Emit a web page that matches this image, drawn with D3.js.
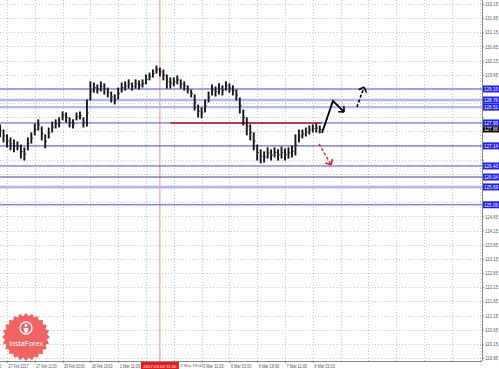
<!DOCTYPE html>
<html><head><meta charset="utf-8">
<script src="https://cdn.jsdelivr.net/npm/d3@7"></script>
<style>body{margin:0;background:#fff}svg{display:block}</style></head>
<body><svg id="c" width="499" height="369"></svg>
<script>
// ---- data ----
const priceTicks = [132.15,131.65,131.15,130.65,130.15,129.65,129.15,128.65,128.15,127.65,127.15,126.65,126.15,125.65,125.15,124.65,124.15,123.65,123.15,122.65,122.15,121.65,121.15,120.65,120.15,119.65];
const timeLabels = ["24 Feb 19:00","27 Feb 2017","27 Feb 11:00","28 Feb 03:00","28 Feb 19:00","1 Mar 11:00","2 Mar 03:00","2 Mar 19:00","3 Mar 11:00","6 Mar 03:00","6 Mar 19:00","7 Mar 11:00","8 Mar 03:00"];
const timeLabelHours = [-16,0,16,32,48,64,80,96,112,128,144,160,176];
const gridHours = [0,16,32,48,64,80,96,112,128,144,160,176,192,208,224,240,256,272];
const barHighs = [127.88,127.70,127.53,127.42,127.35,127.28,127.17,127.07,127.42,127.60,127.91,128.06,127.81,127.53,127.77,127.98,128.06,128.13,128.34,128.30,128.13,128.06,128.30,128.34,128.13,128.76,129.40,129.36,129.29,129.40,129.33,129.18,129.04,128.94,129.18,129.36,129.40,129.47,129.36,129.47,129.43,129.47,129.64,129.71,129.82,129.96,129.89,129.82,129.64,129.54,129.54,129.61,129.47,129.40,129.26,129.11,128.94,128.58,128.48,128.76,129.04,129.29,129.22,129.33,129.26,129.40,129.33,129.26,129.11,128.83,128.41,128.13,127.88,127.60,127.17,127.00,126.93,127.07,127.00,127.07,127.00,127.10,127.03,127.07,127.14,127.53,127.70,127.70,127.77,127.84,127.88,127.91,127.84];
const barLows  = [127.46,127.28,127.10,127.00,126.93,127.00,126.71,126.64,127.00,127.24,127.53,127.70,127.35,127.07,127.42,127.63,127.77,127.81,128.06,127.98,127.81,127.77,128.06,128.09,127.81,127.84,128.76,129.04,129.01,129.08,128.97,128.87,128.69,128.62,128.80,129.04,129.11,129.18,129.11,129.18,129.15,129.22,129.33,129.47,129.57,129.71,129.61,129.47,129.18,129.18,129.26,129.33,129.18,129.11,129.01,128.87,128.41,128.16,128.13,128.34,128.69,128.94,128.90,128.97,128.94,129.11,129.04,128.94,128.76,128.30,127.88,127.53,127.35,127.00,126.64,126.54,126.57,126.71,126.64,126.75,126.64,126.71,126.64,126.71,126.75,126.82,127.28,127.42,127.49,127.56,127.63,127.63,127.60];
const firstBarHour = -4, barStepHours = 2;
const levels = [129.15,128.76,128.51,127.95,127.14,126.43,126.04,125.69,125.06];
const levelKinds = ["major","minor","minor","major","major","major","dark","minor","major"];
const resistance = {fromHour: 94, toHour: 181, price: 127.95};
const markerHour = 88, markerLabel = "2017.03.02 11:00";
const lastPrice = 127.86;
const pathUp = [[181.3,127.60],[187.6,128.73],[194.0,128.34]];
const pathUpDashed = [[201.4,128.51],[205.5,129.22]];
const pathDown = [[179.6,127.21],[186.5,126.47]];

// ---- scales ----
const svg = d3.select("#c");
const W = 482, H = 361;
const FONT = "Liberation Sans, Arial, sans-serif";
const x = d3.scaleLinear().domain([0,272]).range([7, 7+272*1.7375]);
const y = d3.scaleLinear().domain([119.65,132.15]).range([358,4]);
const fmt = d3.format(".2f");

svg.append("defs").append("clipPath").attr("id","cp").append("rect").attr("width",W).attr("height",H);
const plot = svg.append("g").attr("clip-path","url(#cp)");

// grid
plot.selectAll(".hg").data(priceTicks).join("line")
  .attr("x1",0).attr("x2",W).attr("y1",d=>Math.round(y(d))+0.5).attr("y2",d=>Math.round(y(d))+0.5)
  .attr("stroke","#c6c6c6").attr("stroke-dasharray","1,2");
plot.selectAll(".vg").data(gridHours).join("line")
  .attr("y1",0).attr("y2",H).attr("x1",d=>Math.round(x(d))+0.5).attr("x2",d=>Math.round(x(d))+0.5)
  .attr("stroke","#c6c6c6").attr("stroke-dasharray","1,2");

// marker vertical line
plot.append("line").attr("x1",x(markerHour)).attr("x2",x(markerHour)).attr("y1",0).attr("y2",H)
  .attr("stroke","#f08a8a").attr("stroke-width",1);

// level lines
const kindStyle = {major:{c:"#4b4be6",w:1}, minor:{c:"#b4b6f2",w:2.4}, dark:{c:"#3d3d95",w:1}};
plot.selectAll(".lvl").data(levels).join("line")
  .attr("x1",0).attr("x2",W).attr("y1",d=>y(d)).attr("y2",d=>y(d))
  .attr("stroke",(d,i)=>kindStyle[levelKinds[i]].c).attr("stroke-width",(d,i)=>kindStyle[levelKinds[i]].w);

// resistance red line
plot.append("line").attr("x1",x(resistance.fromHour)).attr("x2",x(resistance.toHour))
  .attr("y1",y(resistance.price)).attr("y2",y(resistance.price)).attr("stroke","#c81010").attr("stroke-width",1.4);

// bars
const bx = i => x(firstBarHour+i*barStepHours);
plot.selectAll(".bar").data(barHighs).join("line")
  .attr("x1",(d,i)=>bx(i)).attr("x2",(d,i)=>bx(i))
  .attr("y1",d=>y(d)-0.5).attr("y2",(d,i)=>y(barLows[i])+0.5)
  .attr("stroke","#151515").attr("stroke-width",1.9);
plot.selectAll(".tick2").data(barHighs).join("line")
  .attr("x1",(d,i)=>bx(i)).attr("x2",(d,i)=>bx(i)+1.8)
  .attr("y1",(d,i)=>y((d+barLows[i])/2)).attr("y2",(d,i)=>y((d+barLows[i])/2))
  .attr("stroke","#333").attr("stroke-width",1);

// arrows
const line = d3.line().x(d=>x(d[0])).y(d=>y(d[1]));
function head(pts, color){
  const a = pts[pts.length-2], b = pts[pts.length-1];
  const ax=x(a[0]), ay=y(a[1]), bx2=x(b[0]), by=y(b[1]);
  const ang = Math.atan2(ay-by, ax-bx2), L=6;
  [0.75,-0.75].forEach(o=>{
    plot.append("line").attr("x1",bx2).attr("y1",by)
      .attr("x2",bx2+L*Math.cos(ang+o)).attr("y2",by+L*Math.sin(ang+o))
      .attr("stroke",color).attr("stroke-width",1.6);
  });
}
plot.append("path").attr("d",line(pathUp)).attr("fill","none").attr("stroke","#000").attr("stroke-width",1.8);
head(pathUp,"#000");
plot.append("path").attr("d",line(pathUpDashed)).attr("fill","none").attr("stroke","#000").attr("stroke-width",1.6).attr("stroke-dasharray","3,2");
head(pathUpDashed,"#000");
plot.append("path").attr("d",line(pathDown)).attr("fill","none").attr("stroke","#e02020").attr("stroke-width",1.4).attr("stroke-dasharray","3,2");
head(pathDown,"#e02020");

// badge
const bg = svg.append("g").attr("transform","translate(26,337)").attr("opacity",0.85);
const pts = d3.range(48).map(i=>{const r = i%2? 21:24; const a=i*Math.PI/24; return [r*Math.cos(a), r*Math.sin(a)];});
bg.append("polygon").attr("points",pts.map(p=>p.join(",")).join(" ")).attr("fill","#f04a4a");
bg.append("circle").attr("cy",-9).attr("r",6).attr("fill","none").attr("stroke","#fff").attr("stroke-width",1.3);
bg.append("circle").attr("cy",-11.5).attr("r",1.4).attr("fill","#fff");
bg.append("path").attr("d","M-2.5,-9 L2.5,-9 L1.5,-4.5 L-1.5,-4.5Z").attr("fill","#fff");
bg.append("text").attr("y",9).attr("text-anchor","middle").attr("fill","#fff")
  .attr("font-family",FONT).attr("font-size",7.2).text("InstaForex");

// level label positions (to hide covered ticks)
const boxYs = levels.map(v=>y(v)).concat([y(lastPrice)]);

// axes
const ay = svg.append("g").attr("transform",`translate(${W},0)`)
  .call(d3.axisRight(y).tickValues(priceTicks).tickSize(2).tickFormat(fmt));
ay.select(".domain").attr("d",`M0.5,0V${H}`).attr("stroke","#888");
ay.selectAll("text").attr("font-size",5).attr("font-family",FONT).attr("fill","#555").attr("x",3)
  .attr("textLength",13).attr("lengthAdjust","spacingAndGlyphs");
ay.selectAll(".tick").filter(d=>boxYs.some(b=>Math.abs(b-y(d))<7)).select("text").remove();
ay.selectAll("line").attr("stroke","#888");

const markerX = x(markerHour);
const boxL = markerX - 19, boxR = markerX + 19;
const ax = svg.append("g").attr("transform",`translate(0,${H})`)
  .call(d3.axisBottom(x).tickValues(timeLabelHours).tickSize(2).tickFormat((d,i)=>timeLabels[i]));
ax.select(".domain").attr("d",`M0,0.5H${W}`).attr("stroke","#888");
ax.selectAll("text").attr("font-size",5).attr("font-family",FONT).attr("fill","#555")
  .attr("text-anchor","start").attr("dx",1).attr("y",3)
  .attr("textLength",(d,i)=>i===1?20:20.5).attr("lengthAdjust","spacingAndGlyphs");
// label hidden beneath the marker box in the reference
ax.selectAll(".tick").filter(d=>x(d)>boxL && x(d)<markerX).select("text").remove();
// label right after the marker box starts where the box ends
ax.selectAll(".tick").filter(d=>x(d)>=markerX && x(d)<boxR+2).select("text")
  .attr("dx",d=>boxR+1.2-x(d)).attr("font-size",4.2).attr("y",3.5).attr("textLength",null);
ax.selectAll("line").attr("stroke","#888");

// marker label
const mg = svg.append("g").attr("transform",`translate(${markerX},${H+1})`);
mg.append("rect").attr("x",boxL-markerX).attr("width",boxR-boxL).attr("height",8).attr("fill","#e41e1e");
mg.append("text").attr("x",0).attr("y",5.8).attr("text-anchor","middle").attr("fill","#fff")
  .attr("font-size",4.3).attr("font-family",FONT).text(markerLabel);

// level labels
const lg = svg.append("g");
levels.forEach((v,i)=>{
  lg.append("rect").attr("x",W+1).attr("y",y(v)-3.5).attr("width",17).attr("height",7).attr("fill","#2020f0");
  lg.append("text").attr("x",W+2).attr("y",y(v)+2).attr("fill","#fff").attr("font-size",5)
    .attr("font-family",FONT).attr("textLength",14).attr("lengthAdjust","spacingAndGlyphs").text(fmt(v));
});
const lpTop = y(levels[3]) + 3.5;
lg.append("rect").attr("x",W+1).attr("y",lpTop).attr("width",17).attr("height",6).attr("fill","#000");
lg.append("text").attr("x",W+2).attr("y",lpTop+4.6).attr("fill","#fff").attr("font-size",4.6)
  .attr("font-family",FONT).attr("textLength",14).attr("lengthAdjust","spacingAndGlyphs").text(fmt(lastPrice));
</script></body></html>
